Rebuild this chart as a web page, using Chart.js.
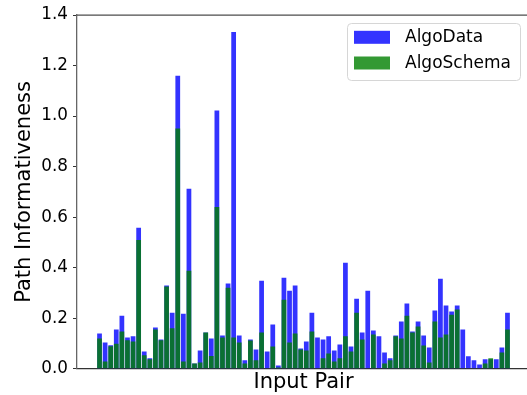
<!DOCTYPE html>
<html><head><meta charset="utf-8">
<script src="https://cdn.jsdelivr.net/npm/chart.js@4/dist/chart.umd.min.js"></script>
<style>html,body{margin:0;padding:0;background:#fff;overflow:hidden;width:527px;height:395px}canvas{display:block}</style>
</head><body>
<canvas id="c" width="530" height="395"></canvas>
<script>
const pairIndex = Array.from({length: 74}, (_, i) => i);
const algoData = [0.139,0.104,0.093,0.155,0.210,0.124,0.128,0.558,0.068,0.041,
  0.163,0.116,0.329,0.222,1.160,0.218,0.712,0.021,0.072,0.143,
  0.120,1.022,0.131,0.337,1.333,0.131,0.033,0.116,0.076,0.348,
  0.068,0.175,0.013,0.360,0.309,0.329,0.080,0.108,0.222,0.124,
  0.116,0.128,0.072,0.096,0.419,0.088,0.277,0.143,0.309,0.151,
  0.128,0.064,0.041,0.131,0.187,0.258,0.147,0.187,0.131,0.084,
  0.230,0.356,0.250,0.226,0.250,0.155,0.049,0.033,0.017,0.037,
  0.037,0.037,0.084,0.222];
const algoSchema = [0.120,0.029,0.089,0.099,0.147,0.113,0.108,0.510,0.053,0.037,
  0.155,0.113,0.325,0.160,0.951,0.029,0.388,0.021,0.025,0.143,
  0.050,0.640,0.124,0.320,0.124,0.104,0.021,0.112,0.033,0.143,
  0.000,0.088,0.005,0.273,0.104,0.139,0.076,0.072,0.147,0.000,
  0.041,0.060,0.029,0.041,0.128,0.068,0.222,0.116,0.000,0.135,
  0.000,0.021,0.033,0.128,0.120,0.210,0.143,0.167,0.092,0.025,
  0.187,0.124,0.135,0.214,0.234,0.000,0.000,0.000,0.000,0.021,
  0.041,0.000,0.064,0.155];
const seriesNames = ['AlgoData', 'AlgoSchema'];
const yTicks = [0.0,0.2,0.4,0.6,0.8,1.0,1.2,1.4];

const FONT = "'DejaVu Sans', sans-serif";
const blue = 'rgba(0,0,255,0.8)';
const green = 'rgba(0,128,0,0.8)';

const frame = {
  id: 'frame',
  afterDraw(chart) {
    const {ctx, chartArea: a} = chart;
    ctx.save();
    ctx.strokeStyle = '#4d4d4d';
    ctx.lineWidth = 1.3;
    ctx.beginPath();
    ctx.moveTo(a.left, a.top); ctx.lineTo(a.right, a.top);
    ctx.stroke();
    // legend
    const x0 = 347.5, y0 = 23.5, w = 173, h = 57, r = 4;
    ctx.beginPath();
    ctx.roundRect(x0, y0, w, h, r);
    ctx.fillStyle = 'rgba(255,255,255,0.8)';
    ctx.fill();
    ctx.strokeStyle = '#d6d6d6';
    ctx.lineWidth = 1;
    ctx.stroke();
    const cols = [blue, green];
    const ys = [37.3, 63];
    ctx.font = '17px ' + FONT;
    ctx.textBaseline = 'middle';
    ctx.textAlign = 'left';
    seriesNames.forEach((n, i) => {
      ctx.fillStyle = cols[i];
      ctx.fillRect(354, ys[i] - 6.5, 36, 13);
      ctx.fillStyle = '#000';
      ctx.fillText(n, 405, ys[i] + 0.5);
    });
    ctx.restore();
  }
};

new Chart(document.getElementById('c'), {
  type: 'bar',
  data: {
    datasets: [
      {label: seriesNames[0], data: pairIndex.map((x, i) => ({x, y: algoData[i]})),
       backgroundColor: blue, order: 2, grouped: false,
       barPercentage: 0.85, categoryPercentage: 1, borderWidth: 0},
      {label: seriesNames[1], data: pairIndex.map((x, i) => ({x, y: algoSchema[i]})),
       backgroundColor: green, order: 1, grouped: false,
       barPercentage: 0.85, categoryPercentage: 1, borderWidth: 0}
    ]
  },
  options: {
    responsive: false, animation: false, devicePixelRatio: 1,
    layout: {padding: {top: 14.5, left: 0, right: 0, bottom: 0}},
    plugins: {legend: {display: false}, tooltip: {enabled: false}},
    scales: {
      x: {
        type: 'linear', min: -4.03, max: 77.03, offset: false,
        ticks: {display: false},
        grid: {display: false, offset: false},
        border: {display: true, color: '#333', width: 1.3},
        title: {display: true, text: 'Input Pair', color: '#000',
                font: {family: FONT, size: 21}, padding: {top: 0, bottom: 0}},
        afterFit: s => { s.height = 26.3; }
      },
      y: {
        min: 0, max: 1.4,
        afterBuildTicks: s => { s.ticks = yTicks.map(v => ({value: v})); },
        ticks: {color: '#000', font: {family: FONT, size: 16.8}, padding: 5,
                callback: v => Number(v).toFixed(1)},
        grid: {drawOnChartArea: false, drawTicks: true, tickLength: 4, tickColor: '#333'},
        border: {display: true, color: '#666', width: 1.3},
        title: {display: true, text: 'Path Informativeness', color: '#000',
                font: {family: FONT, size: 21}, padding: {top: 12.4, bottom: 0}},
        afterFit: s => { s.width = 77; }
      }
    }
  },
  plugins: [frame]
});
</script>
</body></html>
